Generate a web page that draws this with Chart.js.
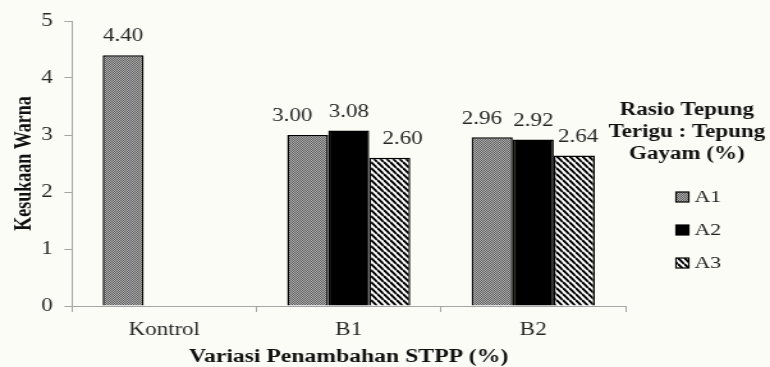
<!DOCTYPE html>
<html>
<head>
<meta charset="utf-8">
<title>Kesukaan Warna</title>
<script src="https://cdn.jsdelivr.net/npm/chart.js@4/dist/chart.umd.min.js"></script>
<style>
  html, body { margin: 0; padding: 0; background: #fcfcf7; overflow: hidden; }
  /* the chart is laid out on a narrower canvas and widened, giving the wide serif lettering */
  #wrap { width: 602px; height: 367px; transform: scaleX(1.27907); transform-origin: 0 0; }
  canvas { display: block; }
</style>
</head>
<body>
<div id="wrap"><canvas id="chart" width="602" height="367"></canvas></div>
<script>
// ---- data ----
const categories = ['Kontrol', 'B1', 'B2'];
const seriesNames = ['A1', 'A2', 'A3'];
const valuesA1 = [4.40, 3.00, 2.96];
const valuesA2 = [null, 3.08, 2.92];
const valuesA3 = [null, 2.60, 2.64];
const yTicks = [0, 1, 2, 3, 4, 5];
const legendTitle = ['Rasio Tepung', 'Terigu : Tepung', 'Gayam (%)'];
const xTitle = 'Variasi Penambahan STPP (%)';
const yTitle = 'Kesukaan Warna';

const SERIF = '"Liberation Serif", "Times New Roman", serif';
const AXIS = '#a6a6a6';

// fine grey checker fill
function dotPattern() {
  const c = document.createElement('canvas');
  c.width = 2; c.height = 2;
  const g = c.getContext('2d');
  g.fillStyle = '#b4b4b4'; g.fillRect(0, 0, 2, 2);
  g.fillStyle = '#5a5a5a'; g.fillRect(0, 0, 1, 1); g.fillRect(1, 1, 1, 1);
  return g.createPattern(c, 'repeat');
}

// black/white back-slash stripes
function stripePattern() {
  const n = 5, m = 6;
  const c = document.createElement('canvas');
  c.width = n; c.height = m;
  const g = c.getContext('2d');
  g.fillStyle = '#ffffff'; g.fillRect(0, 0, n, m);
  g.strokeStyle = '#000000'; g.lineWidth = 2;
  for (const k of [-1, 0, 1]) {
    g.beginPath(); g.moveTo(0, k * m); g.lineTo(n, m + k * m); g.stroke();
  }
  return g.createPattern(c, 'repeat');
}

const fills = [dotPattern(), '#000000', stripePattern()];
const seriesValues = [valuesA1, valuesA2, valuesA3];

// value printed above each bar; neighbouring labels are pushed apart sideways
const labelShift = [[0, -12, -8], [0, 0, 0], [0, 10, 3]];
const barValueLabels = {
  id: 'barValueLabels',
  afterDatasetsDraw(chart) {
    const ctx = chart.ctx;
    ctx.save();
    ctx.font = '18px ' + SERIF;
    ctx.fillStyle = '#262626';
    ctx.textAlign = 'center';
    ctx.textBaseline = 'middle';
    chart.data.datasets.forEach((ds, i) => {
      chart.getDatasetMeta(i).data.forEach((bar, j) => {
        const v = ds.data[j];
        if (v === null || v === undefined) return;
        ctx.fillText(v.toFixed(2), bar.x + labelShift[i][j], bar.y - 18.5);
      });
    });
    ctx.restore();
  }
};

// legend with a three-line bold title at the right side
const sideLegend = {
  id: 'sideLegend',
  afterDraw(chart) {
    const ctx = chart.ctx;
    ctx.save();
    ctx.font = 'bold 18px ' + SERIF;
    ctx.fillStyle = '#111111';
    ctx.textAlign = 'center';
    ctx.textBaseline = 'middle';
    legendTitle.forEach((line, i) => ctx.fillText(line, 537, 110 + i * 22));

    ctx.font = '17px ' + SERIF;
    ctx.textAlign = 'left';
    chart.data.datasets.forEach((ds, i) => {
      const y = 197 + i * 33;
      ctx.fillStyle = ds.backgroundColor;
      ctx.fillRect(528.5, y - 5, 10, 10);
      ctx.strokeStyle = '#000000';
      ctx.lineWidth = 1.2;
      ctx.strokeRect(528.5, y - 5, 10, 10);
      ctx.fillStyle = '#222222';
      ctx.fillText(ds.label, 543, y + 0.5);
    });
    ctx.restore();
  }
};

new Chart(document.getElementById('chart'), {
  type: 'bar',
  data: {
    labels: categories,
    datasets: seriesNames.map((name, i) => ({
      label: name,
      data: seriesValues[i],
      backgroundColor: fills[i],
      borderColor: '#000000',
      borderWidth: 1.5
    }))
  },
  options: {
    responsive: false,
    animation: false,
    devicePixelRatio: 1,
    layout: { padding: { top: 21, right: 113, left: 0, bottom: 0 } },
    datasets: { bar: { categoryPercentage: 0.667, barPercentage: 1 } },
    plugins: { legend: { display: false }, tooltip: { enabled: false } },
    scales: {
      x: {
        grid: { drawOnChartArea: false, drawTicks: true, tickLength: 6, color: AXIS },
        border: { color: AXIS, width: 1 },
        ticks: { font: { family: SERIF, size: 18 }, color: '#262626', padding: 7 },
        title: {
          display: true, text: xTitle, color: '#111111', padding: -1,
          font: { family: SERIF, size: 18.5, weight: 'bold' }
        },
        afterFit(scale) { scale.height = 61; }
      },
      y: {
        min: 0, max: 5,
        afterBuildTicks(scale) { scale.ticks = yTicks.map(v => ({ value: v })); },
        grid: { drawOnChartArea: false, drawTicks: true, tickLength: 6, color: AXIS },
        border: { color: AXIS, width: 1 },
        ticks: { font: { family: SERIF, size: 18 }, color: '#262626', padding: 9 },
        title: {
          display: true, text: yTitle, color: '#111111', padding: 9,
          font: { family: SERIF, size: 18, weight: 'bold' }
        },
        afterFit(scale) { scale.width = 56.25; }
      }
    }
  },
  plugins: [barValueLabels, sideLegend]
});
</script>
</body>
</html>
